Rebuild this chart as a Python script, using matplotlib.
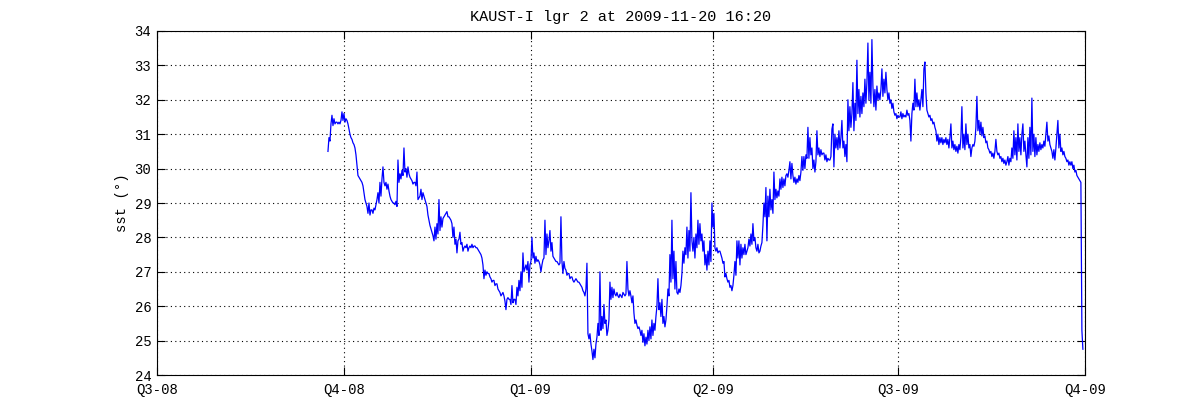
import numpy as np
import pandas as pd
import matplotlib
matplotlib.use("Agg")
import matplotlib.pyplot as plt
import matplotlib.dates as mdates

# logger 2 sea surface temperature, one reading every 709 min from 2008-09-23
start_time = "2008-09-23 05:00"
step = "709min"
sst = [
    30.5, 30.9, 30.8, 31.3, 31.55, 31.25, 31.45, 31.3, 31.35, 31.35,
    31.3, 31.35, 31.3, 31.4, 31.65, 31.4, 31.6, 31.35, 31.45, 31.4,
    31.3, 31.15, 31.0, 30.9, 30.85, 30.75, 30.7, 30.6, 30.4, 30.1,
    29.8, 29.75, 29.7, 29.65, 29.6, 29.5, 29.3, 29.1, 29.0, 28.9,
    28.7, 29.0, 28.65, 28.8, 28.8, 28.7, 28.85, 28.8, 28.95, 29.1,
    29.3, 29.0, 29.6, 29.2, 29.7, 30.05, 29.6, 29.5, 29.6, 29.4,
    29.55, 29.35, 29.2, 29.1, 29.05, 29.0, 29.0, 28.95, 29.05, 28.9,
    30.25, 29.6, 29.85, 29.7, 29.95, 29.8, 30.6, 29.9, 30.0, 29.75,
    30.05, 29.85, 29.75, 29.7, 29.65, 29.55, 29.6, 29.6, 29.5, 29.9,
    29.1, 29.15, 29.2, 29.4, 29.1, 29.3, 29.2, 29.1, 29.0, 28.9,
    28.65, 28.5, 28.35, 28.25, 28.15, 28.05, 27.9, 28.3, 27.95, 28.4,
    28.1, 29.1, 28.2, 28.6, 28.3, 28.55, 28.6, 28.65, 28.7, 28.75,
    28.6, 28.6, 28.55, 28.5, 28.4, 28.0, 28.3, 27.8, 27.95, 27.55,
    27.9, 27.95, 28.15, 27.8, 27.85, 27.6, 27.7, 27.75, 27.7, 27.8,
    27.6, 27.7, 27.75, 27.7, 27.8, 27.7, 27.75, 27.75, 27.7, 27.7,
    27.65, 27.6, 27.55, 27.5, 27.4, 27.2, 26.8, 27.05, 26.9, 27.0,
    26.95, 26.95, 26.85, 26.8, 26.7, 26.75, 26.75, 26.6, 26.65, 26.65,
    26.5, 26.45, 26.4, 26.3, 26.35, 26.4, 26.3, 26.15, 25.9, 26.2,
    26.25, 26.2, 26.2, 26.05, 26.6, 26.1, 26.2, 26.2, 26.05, 26.55,
    26.3, 26.75, 26.45, 27.0, 26.55, 27.55, 27.0, 27.1, 27.2, 27.05,
    27.3, 26.7, 27.2, 27.3, 28.0, 27.4, 27.55, 27.25, 27.45, 27.3,
    27.35, 27.3, 27.2, 27.0, 27.2, 27.35, 27.4, 28.5, 27.5, 28.1,
    27.7, 27.9, 28.2, 27.6, 27.85, 27.45, 27.4, 27.35, 27.3, 27.3,
    27.25, 27.2, 27.25, 28.6, 27.3, 26.95, 27.3, 27.1, 27.05, 26.9,
    26.95, 26.95, 26.8, 26.85, 26.85, 26.75, 26.7, 26.75, 26.8, 26.75,
    26.7, 26.7, 26.65, 26.6, 26.55, 26.45, 26.4, 26.3, 26.5, 27.25,
    25.2, 25.05, 25.2, 24.9, 24.7, 24.45, 24.75, 24.5, 24.9, 25.1,
    25.5, 25.15, 27.0, 25.3, 25.7, 25.35, 26.05, 25.5, 25.6, 25.15,
    25.3, 25.6, 26.7, 26.2, 26.55, 26.25, 26.5, 26.35, 26.3, 26.4,
    26.3, 26.25, 26.35, 26.3, 26.25, 26.4, 26.35, 26.3, 26.35, 27.3,
    26.5, 26.3, 26.45, 26.3, 26.1, 26.3, 25.8, 25.5, 25.6, 25.45,
    25.35, 25.4, 25.3, 25.15, 25.3, 24.95, 25.2, 24.85, 25.1, 24.9,
    25.3, 25.0, 25.4, 25.05, 25.6, 25.15, 25.5, 25.3, 25.7, 26.0,
    26.8, 25.9, 26.1, 25.7, 26.2, 25.5, 25.7, 25.4, 25.6, 26.0,
    26.5, 26.3, 27.5, 26.7, 28.5, 26.8, 27.6, 26.5, 27.3, 26.4,
    26.35, 26.5, 26.4, 26.6, 26.95, 27.6, 27.25, 27.7, 27.5, 28.3,
    27.4, 28.2, 27.6, 29.3, 27.9, 27.6, 28.0, 27.4, 28.1, 27.7,
    28.5, 27.8, 28.4, 27.9, 28.1, 27.6, 27.9, 27.2, 27.5, 27.05,
    27.6, 27.2, 27.9, 27.3, 29.0, 28.3, 28.7, 27.7, 27.6, 27.7,
    27.55, 27.6, 27.6, 27.5, 27.4, 27.25, 27.3, 26.85, 26.95, 26.8,
    26.7, 26.75, 26.55, 26.6, 26.45, 26.6, 26.9, 27.3, 26.9, 27.9,
    27.4, 27.9, 27.2, 27.8, 27.4, 27.7, 27.5, 27.8, 27.5, 27.6,
    27.7, 27.95, 27.75, 28.1, 27.8, 28.4, 27.9, 28.0, 27.7, 27.6,
    27.8, 27.55, 27.6, 27.75, 27.85, 28.35, 29.0, 28.6, 29.45, 27.9,
    29.2, 28.6, 29.4, 28.8, 29.1, 28.7, 29.9, 29.1, 29.4, 29.15,
    29.35, 29.2, 29.7, 29.4, 29.75, 29.45, 29.7, 29.5, 29.8, 29.85,
    29.75, 29.95, 30.2, 29.7, 30.15, 29.8, 29.6, 29.75, 29.55, 29.7,
    29.6, 29.8, 29.65, 29.9, 30.35, 29.95, 30.35, 30.0, 30.4, 30.3,
    31.2, 30.3, 30.9, 30.4, 30.6, 30.0, 30.25, 29.9, 30.2, 31.1,
    30.4, 30.6, 30.35, 30.55, 30.4, 30.45, 30.45, 30.25, 30.4, 30.2,
    30.3, 30.25, 30.25, 30.35, 31.15, 31.3, 30.05, 31.0, 30.6, 30.9,
    30.55, 31.1, 30.6, 30.9, 31.4, 30.6, 30.8, 30.35, 30.7, 30.2,
    32.0, 31.1, 31.8, 31.2, 31.6, 32.5, 31.1, 31.9, 31.4, 33.15,
    31.6, 32.3, 31.5, 32.1, 31.6, 32.2, 31.8, 32.6, 31.9, 32.5,
    33.65, 32.0, 32.8, 31.9, 33.75, 32.4, 31.8, 32.3, 31.7, 32.4,
    32.0, 32.2, 32.0, 32.3, 32.9, 32.1, 32.6, 32.2, 32.8, 32.3,
    32.0, 32.2, 31.9, 32.0, 31.75, 31.9, 31.65, 31.55, 31.6, 31.45,
    31.55, 31.5, 31.5, 31.65, 31.45, 31.6, 31.5, 31.55, 31.5, 31.7,
    31.55, 31.6, 31.4, 30.8, 31.6, 31.9, 31.7, 32.6, 31.8, 32.2,
    31.8, 32.0, 31.7, 32.0, 32.3, 31.8, 32.9, 33.1, 32.2, 31.7,
    31.6, 31.5, 31.55, 31.4, 31.45, 31.3, 31.35, 31.2, 31.1, 30.8,
    31.0, 30.7, 30.9, 30.75, 30.9, 30.7, 30.85, 30.75, 30.9, 30.7,
    30.85, 30.6, 30.9, 31.3, 30.6, 30.8, 30.55, 30.7, 30.5, 30.65,
    30.45, 30.7, 30.55, 30.9, 31.8, 30.6, 31.0, 30.55, 31.3, 30.7,
    31.0, 30.6, 30.7, 30.35, 30.6, 30.7, 30.65, 30.8, 31.2, 32.1,
    31.1, 31.4, 31.0, 31.35, 30.95, 31.2, 30.9, 30.95, 30.75, 30.8,
    30.6, 30.55, 30.45, 30.5, 30.35, 30.45, 30.3, 30.5, 30.85, 30.5,
    30.4, 30.45, 30.3, 30.35, 30.2, 30.3, 30.15, 30.25, 30.1, 30.2,
    30.35, 30.1, 30.3, 30.2, 30.6, 30.3, 31.1, 30.4, 30.9, 30.25,
    31.3, 30.5, 30.9, 30.4, 31.0, 31.3, 30.5, 30.8, 30.4, 30.05,
    30.9, 30.3, 31.2, 30.4, 32.05, 30.5, 31.0, 30.35, 30.9, 30.4,
    30.7, 30.5, 30.75, 30.55, 30.7, 30.6, 30.8, 30.65, 31.0, 31.35,
    30.8, 30.95, 30.7, 30.6, 30.5, 30.3, 30.55, 30.25, 30.6, 31.0,
    31.4, 30.6, 31.0, 30.5, 30.6, 30.4, 30.5, 30.35, 30.3, 30.2,
    30.25, 30.1, 30.2, 30.1, 30.2, 30.0, 30.1, 29.9, 29.95, 29.8,
    29.75, 29.7, 29.65, 29.6, 25.3, 24.75,
]

quarter_starts = ["2008-07-01", "2008-10-01", "2009-01-01", "2009-04-01", "2009-07-01", "2009-10-01"]
quarter_labels = ["Q3-08", "Q4-08", "Q1-09", "Q2-09", "Q3-09", "Q4-09"]
title = "KAUST-I lgr 2 at 2009-11-20 16:20"

times = pd.date_range(start_time, periods=len(sst), freq=step)

mono = ["Liberation Mono", "DejaVu Sans Mono"]
plt.rcParams["font.family"] = mono

fig = plt.figure(figsize=(12, 4.2), dpi=100)
ax = fig.add_axes([0.1308, 0.1071, 0.7734, 0.8191])

ax.plot(times, sst, color="#0000ff", lw=0.9)

qt = pd.to_datetime(quarter_starts)
ax.set_xlim(qt[0], qt[-1])
ax.set_ylim(24, 34)
ax.set_xticks(qt)
ax.set_xticklabels(quarter_labels)
ax.set_yticks(range(24, 35))

ax.grid(True, color="black", linestyle=(0, (1, 3)), linewidth=0.8)
ax.tick_params(direction="in", length=6, width=0.8, top=True, right=True,
               labelsize=10, colors="black")
ax.tick_params(axis="x", pad=6)
ax.tick_params(axis="y", pad=4)
for s in ax.spines.values():
    s.set_linewidth(0.8)

ax.set_ylabel("sst (°)", fontsize=10)
ax.set_title(title, fontsize=11, pad=7)

fig.savefig("out.png", dpi=100, facecolor="white")
